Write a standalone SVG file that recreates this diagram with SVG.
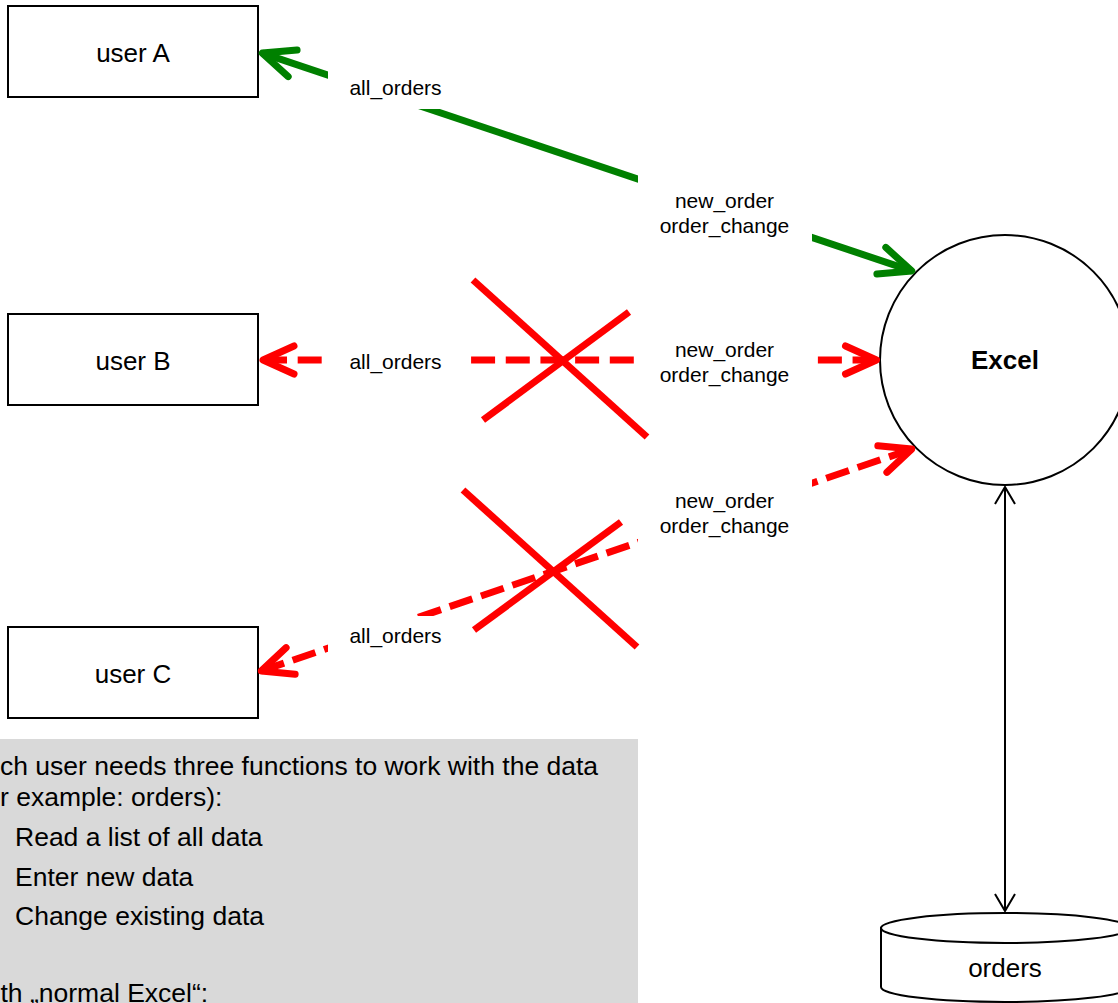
<svg xmlns="http://www.w3.org/2000/svg" width="1118" height="1003" viewBox="0 0 1118 1003">
<style>
.node{fill:#fff;stroke:#000;stroke-width:2}
.lbl{font-family:"Liberation Sans",Arial,sans-serif;font-size:26px;fill:#000;text-anchor:middle}
.bold{font-weight:bold}
.flow{font-family:"Liberation Sans",Arial,sans-serif;font-size:21px;fill:#000;text-anchor:middle}
.note{font-family:"Liberation Sans",Arial,sans-serif;font-size:26.5px;fill:#000}
.green{stroke:#008000;stroke-width:7;fill:none}
.red{stroke:#ff0000;stroke-width:7;fill:none}
.black{stroke:#000;stroke-width:2;fill:none}
.cross{stroke:#ff0000;stroke-width:7;fill:none}
.bg{fill:#fff;stroke:none}
</style>
<defs>
<marker id="ahG" viewBox="-40 -20 46 40" refX="0" refY="0" markerWidth="46" markerHeight="40" markerUnits="userSpaceOnUse" orient="auto-start-reverse" overflow="visible"><path d="M-32,-14 L0,0 L-32,14" fill="none" stroke="#008000" stroke-width="7" stroke-linecap="round" stroke-linejoin="round"/></marker>
<marker id="ahR" viewBox="-40 -20 46 40" refX="0" refY="0" markerWidth="46" markerHeight="40" markerUnits="userSpaceOnUse" orient="auto-start-reverse" overflow="visible"><path d="M-31,-14 L0,0 L-31,14" fill="none" stroke="#ff0000" stroke-width="7" stroke-linecap="round" stroke-linejoin="round"/></marker>
<marker id="ahK" viewBox="-20 -12 24 24" refX="0" refY="0" markerWidth="24" markerHeight="24" markerUnits="userSpaceOnUse" orient="auto-start-reverse" overflow="visible"><path d="M-17,-10 L0,0 L-17,10" fill="none" stroke="#000" stroke-width="2" stroke-linejoin="miter"/></marker>
</defs>
<rect x="0" y="0" width="1118" height="1003" fill="#fff"/>

<g id="note">
<rect x="0" y="739" width="638" height="270" fill="#d9d9d9"/>
<text class="note" x="0" y="775">ch user needs three functions to work with the data</text>
<text class="note" x="0" y="806">r example: orders):</text>
<text class="note" x="15" y="846">Read a list of all data</text>
<text class="note" x="15" y="886">Enter new data</text>
<text class="note" x="15" y="925">Change existing data</text>
<text class="note" x="0.5" y="1002">th „normal Excel“:</text>
</g>

<g id="userA"><rect class="node" x="8" y="6" width="250" height="91"/><text class="lbl" x="133" y="62">user A</text></g>
<g id="userB"><rect class="node" x="8" y="314" width="250" height="91"/><text class="lbl" x="133" y="370">user B</text></g>
<g id="userC"><rect class="node" x="8" y="627" width="250" height="91"/><text class="lbl" x="133" y="683">user C</text></g>
<g id="excel"><circle class="node" cx="1005" cy="360" r="125"/><text class="lbl bold" x="1005" y="369">Excel</text></g>
<g id="orders">
<path class="node" d="M881,928 L881,987 A124,15 0 0 0 1129,987 L1129,928 Z"/>
<ellipse class="node" cx="1005" cy="928" rx="124" ry="15"/>
<text class="lbl" x="1005" y="977">orders</text>
</g>

<g id="connectors">
<line class="green" x1="262.3" y1="53.1" x2="911.7" y2="270.9" marker-start="url(#ahG)" marker-end="url(#ahG)"/>
<line class="red" x1="263" y1="360" x2="876.5" y2="360" style="stroke-dasharray:24 10.68" marker-start="url(#ahR)" marker-end="url(#ahR)"/>
<line class="red" x1="261.3" y1="670.9" x2="911.7" y2="449.1" style="stroke-dasharray:24 9.16" marker-start="url(#ahR)" marker-end="url(#ahR)"/>
<line class="black" x1="1005" y1="487" x2="1005" y2="911" marker-start="url(#ahK)" marker-end="url(#ahK)"/>
</g>

<g id="labels">
<rect class="bg" x="328" y="68" width="135" height="41"/>
<text class="flow" x="395.5" y="95">all_orders</text>
<rect class="bg" x="638" y="174" width="174" height="68"/>
<text class="flow" x="724.5" y="208">new_order</text>
<text class="flow" x="724.5" y="233">order_change</text>

<rect class="bg" x="326" y="344" width="137" height="34"/>
<text class="flow" x="395.5" y="369">all_orders</text>
<rect class="bg" x="638" y="335" width="174" height="55"/>
<text class="flow" x="724.5" y="357">new_order</text>
<text class="flow" x="724.5" y="382">order_change</text>

<rect class="bg" x="328" y="616" width="135" height="40"/>
<text class="flow" x="395.5" y="643">all_orders</text>
<rect class="bg" x="638" y="476" width="174" height="70"/>
<text class="flow" x="724.5" y="508">new_order</text>
<text class="flow" x="724.5" y="533">order_change</text>
</g>

<g id="crosses">
<line class="cross" x1="473" y1="280" x2="647" y2="437"/>
<line class="cross" x1="629" y1="312" x2="483" y2="420"/>
<line class="cross" x1="463" y1="490" x2="637" y2="647"/>
<line class="cross" x1="621" y1="522" x2="474" y2="630"/>
</g>
</svg>
